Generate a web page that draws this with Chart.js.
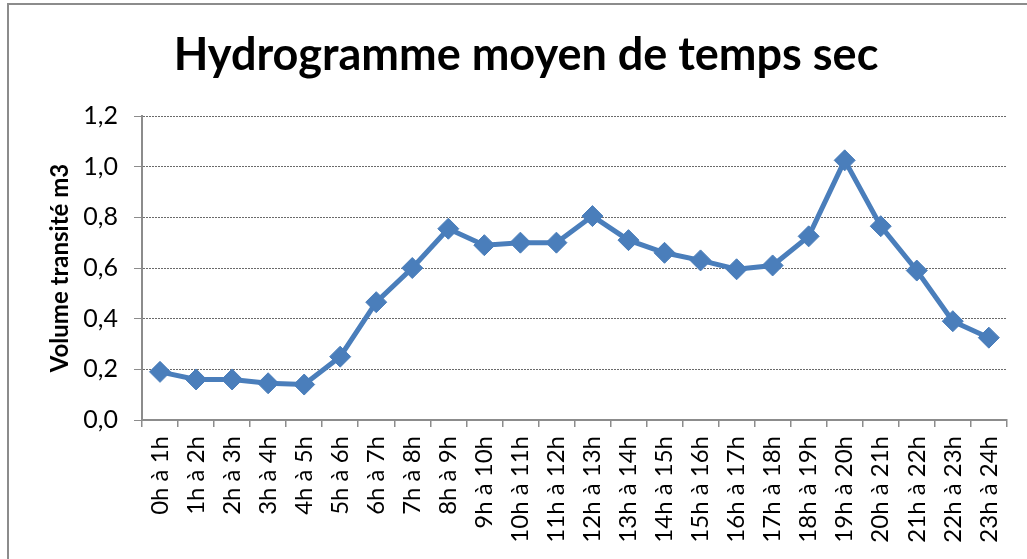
<!DOCTYPE html>
<html>
<head>
<meta charset="utf-8">
<script src="https://cdn.jsdelivr.net/npm/chart.js@4/dist/chart.umd.min.js"></script>
<style>
html,body{margin:0;padding:0;background:#fff;}
#wrap{width:1027px;height:559px;position:relative;}
</style>
</head>
<body>
<div id="wrap"><canvas id="c" width="1027" height="559"></canvas></div>
<script>
const categories = ["0h à 1h","1h à 2h","2h à 3h","3h à 4h","4h à 5h","5h à 6h","6h à 7h","7h à 8h","8h à 9h","9h à 10h","10h à 11h","11h à 12h","12h à 13h","13h à 14h","14h à 15h","15h à 16h","16h à 17h","17h à 18h","18h à 19h","19h à 20h","20h à 21h","21h à 22h","22h à 23h","23h à 24h"];
const volumes = [0.19,0.16,0.16,0.145,0.14,0.25,0.465,0.60,0.755,0.69,0.70,0.70,0.805,0.71,0.66,0.63,0.595,0.61,0.725,1.025,0.765,0.59,0.39,0.325];
const yTicks = [0,0.2,0.4,0.6,0.8,1.0,1.2];
const titleText = "Hydrogramme moyen de temps sec";
const yTitle = "Volume transité m3";

const frame = {
  id:'frame',
  beforeDraw(chart){
    const ctx = chart.ctx;
    ctx.save();
    ctx.fillStyle='#fff';
    ctx.fillRect(0,0,chart.width,chart.height);
    ctx.strokeStyle='#8c8c8c';
    ctx.lineWidth=2;
    ctx.beginPath();
    ctx.moveTo(8,600);ctx.lineTo(8,4);ctx.lineTo(1100,4);
    ctx.stroke();
    ctx.restore();
  }
};

new Chart(document.getElementById('c'), {
  type:'line',
  data:{
    labels:categories,
    datasets:[{
      data:volumes,
      borderColor:'#4a7ebb',
      backgroundColor:'#4a7ebb',
      borderWidth:5,
      pointStyle:'rectRot',
      pointRadius:10.5,
      pointHoverRadius:10.5,
      pointBorderWidth:1,
      pointBorderColor:'#4a7ebb',
      tension:0
    }]
  },
  options:{
    responsive:false,
    animation:false,
    events:[],
    layout:{padding:{left:42,right:17,top:0,bottom:0}},
    plugins:{
      legend:{display:false},
      tooltip:{enabled:false},
      title:{
        display:true,
        text:titleText,
        color:'#000',
        font:{family:'Lato',size:45,weight:'bold',lineHeight:1.2},
        padding:{top:28,bottom:34}
      }
    },
    scales:{
      x:{
        offset:true,
        grid:{display:true,drawOnChartArea:false,offset:true,color:'#8c8c8c',tickLength:7,lineWidth:1.5},
        border:{display:true,color:'#8c8c8c',width:2},
        ticks:{
          color:'#000',
          font:{family:'Lato',size:24},
          minRotation:90,maxRotation:90,autoSkip:false,padding:9
        },
        afterFit(s){s.height=139;}
      },
      y:{
        min:0,max:1.2,
        afterBuildTicks(s){s.ticks=yTicks.map(v=>({value:v}));},
        grid:{
          color:(c)=> c.tick && c.tick.value===0 ? 'rgba(0,0,0,0)' : '#6a6a6a',
          lineWidth:1,
          tickColor:'#8c8c8c',
          tickLength:8,
          drawTicks:true
        },
        border:{display:true,color:'#8c8c8c',width:2,dash:[2,1]},
        ticks:{
          color:'#000',
          font:{family:'Lato',size:25},
          padding:16,
          callback:(v)=>Number(v).toFixed(1).replace('.',',')
        },
        title:{
          display:true,
          text:yTitle,
          color:'#000',
          font:{family:'Lato',size:24,weight:'bold',lineHeight:1.2},
          padding:{top:4,bottom:0}
        },
        afterFit(s){s.width=100;}
      }
    }
  },
  plugins:[frame]
});
</script>
</body>
</html>
